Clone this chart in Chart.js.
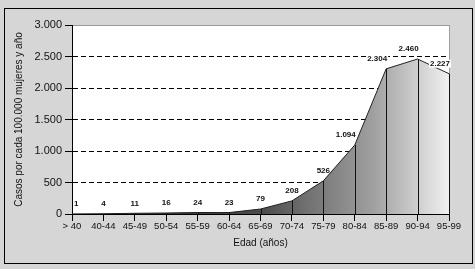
<!DOCTYPE html>
<html>
<head>
<meta charset="utf-8">
<script src="https://cdn.jsdelivr.net/npm/chart.js@4/dist/chart.umd.min.js"></script>
<style>
  body { margin: 0; background: #fff; }
  #wrap { width: 475px; height: 269px; position: relative; }
</style>
</head>
<body>
<div id="wrap"><canvas id="chart"></canvas></div>
<script>
const ageGroups = ['> 40', '40-44', '45-49', '50-54', '55-59', '60-64', '65-69',
                   '70-74', '75-79', '80-84', '85-89', '90-94', '95-99'];
const casesPer100k = [1, 4, 11, 16, 24, 23, 79, 208, 526, 1094, 2304, 2460, 2227];
const yTicks = [0, 500, 1000, 1500, 2000, 2500, 3000];

const fmt = v => v.toLocaleString('de-DE');

// gray page, black frame and white plot area
const frame = {
    id: 'frame',
    beforeDraw(chart) {
        const { ctx, chartArea: a } = chart;
        ctx.save();
        ctx.fillStyle = '#d6d6d6';
        ctx.fillRect(0, 0, chart.width, chart.height);
        ctx.strokeStyle = '#000';
        ctx.lineWidth = 1;
        ctx.strokeRect(4.5, 8.5, 468, 255);
        ctx.fillStyle = '#fff';
        ctx.fillRect(a.left, a.top, a.right - a.left, a.bottom - a.top);
        ctx.strokeStyle = '#a0a0a0';
        ctx.beginPath();
        ctx.moveTo(a.right + 0.5, a.top);
        ctx.lineTo(a.right + 0.5, a.bottom);
        ctx.stroke();
        ctx.restore();
    }
};

// drop lines and value labels
const dropLines = {
    id: 'dropLines',
    afterDatasetsDraw(chart) {
        const { ctx, chartArea: a } = chart;
        const pts = chart.getDatasetMeta(0).data;
        ctx.save();
        ctx.strokeStyle = '#111';
        ctx.lineWidth = 1;
        pts.forEach(p => {
            const x = Math.round(p.x) + 0.5;
            ctx.beginPath();
            ctx.moveTo(x, p.y);
            ctx.lineTo(x, a.bottom);
            ctx.stroke();
        });
        ctx.font = 'bold 8px "Liberation Sans", Arial, sans-serif';
        ctx.textBaseline = 'middle';
        pts.forEach((p, i) => {
            const v = casesPer100k[i];
            const txt = fmt(v);
            const w = ctx.measureText(txt).width;
            let x = p.x, left;
            if (i === 0) {
                ctx.textAlign = 'left';
                x += 2;
                left = x;
            } else if (v >= 1000) {
                ctx.textAlign = 'right';
                x += 1;
                left = x - w;
            } else {
                ctx.textAlign = 'center';
                left = x - w / 2;
            }
            const y = p.y - 10;
            if (v >= 1000) {
                ctx.fillStyle = '#fff';
                ctx.fillRect(left - 1, y - 4, w + 2, 8);
            }
            ctx.fillStyle = '#111';
            ctx.fillText(txt, x, y);
        });
        ctx.restore();
    }
};

new Chart(document.getElementById('chart'), {
    type: 'line',
    data: {
        labels: ageGroups,
        datasets: [{
            data: casesPer100k,
            fill: 'origin',
            borderColor: '#222',
            borderWidth: 1,
            pointRadius: 0,
            tension: 0,
            backgroundColor(ctx) {
                const a = ctx.chart.chartArea;
                if (!a) return '#888';
                const g = ctx.chart.ctx.createLinearGradient(a.left, 0, a.right, 0);
                g.addColorStop(0, '#2a2a2a');
                g.addColorStop(0.5, '#4a4a4a');
                g.addColorStop(0.62, '#707070');
                g.addColorStop(0.8, '#a0a0a0');
                g.addColorStop(1, '#f0f0f0');
                return g;
            }
        }]
    },
    options: {
        responsive: true,
        maintainAspectRatio: false,
        animation: false,
        layout: { padding: { left: 0, top: 25, right: 26, bottom: 0 } },
        plugins: {
            legend: { display: false },
            tooltip: { enabled: false }
        },
        scales: {
            x: {
                offset: false,
                afterFit(scale) { scale.height = 55; },
                grid: {
                    drawOnChartArea: false,
                    drawTicks: true,
                    tickLength: 7,
                    tickColor: '#000'
                },
                border: { display: true, color: '#000' },
                ticks: {
                    color: '#111',
                    padding: 0,
                    maxRotation: 0,
                    autoSkip: false,
                    font: { family: '"Liberation Sans", Arial, sans-serif', size: 9.5 }
                },
                title: {
                    display: true,
                    text: 'Edad (años)',
                    color: '#111',
                    padding: { top: 0, bottom: 20 },
                    font: { family: '"Liberation Sans", Arial, sans-serif', size: 10 }
                }
            },
            y: {
                min: 0,
                max: 3000,
                afterFit(scale) { scale.width = 72; },
                afterBuildTicks(scale) { scale.ticks = yTicks.map(v => ({ value: v })); },
                grid: {
                    color: ctx => ctx.tick && ctx.tick.value === 3000 ? '#999' : '#000',
                    tickColor: '#000',
                    tickLength: 7,
                    tickBorderDash: []
                },
                border: {
                    display: true,
                    color: '#000',
                    dash: ctx => ctx.tick && (ctx.tick.value === 3000 || ctx.tick.value === 0) ? [] : [5, 3]
                },
                ticks: {
                    color: '#111',
                    padding: 3,
                    callback: v => fmt(v),
                    font: { family: '"Liberation Sans", Arial, sans-serif', size: 11 }
                },
                title: {
                    display: true,
                    text: 'Casos por cada 100.000 mujeres y año',
                    color: '#111',
                    padding: { top: 13, bottom: 0 },
                    font: { family: '"Liberation Sans", Arial, sans-serif', size: 10 }
                }
            }
        }
    },
    plugins: [frame, dropLines]
});
</script>
</body>
</html>
